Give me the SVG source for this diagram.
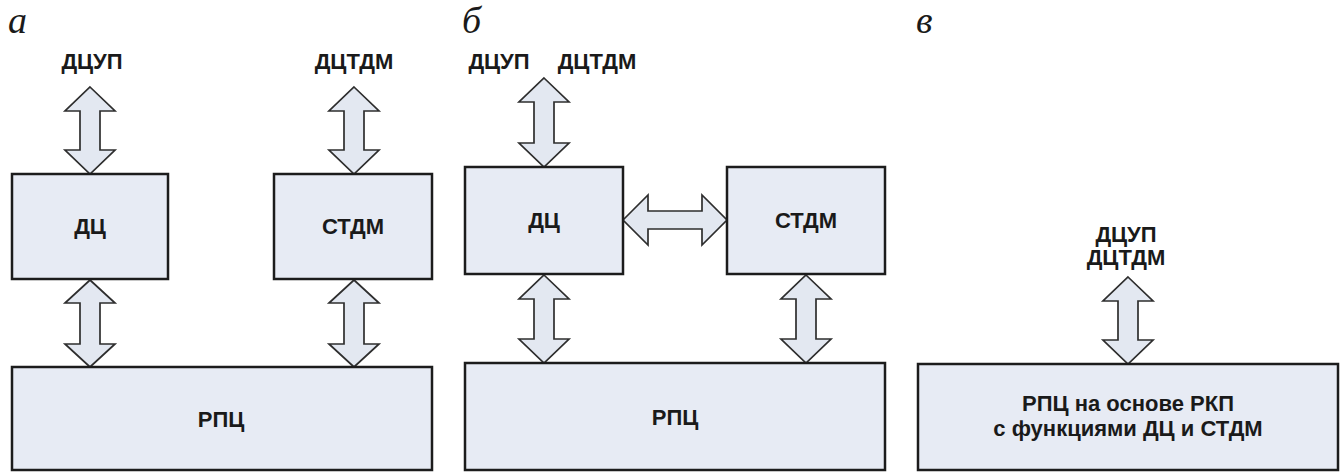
<svg xmlns="http://www.w3.org/2000/svg" width="1341" height="472" viewBox="0 0 1341 472">
<style>
.box{fill:#E7EBF4;stroke:#1c1c1c;stroke-width:2.5}
.arr{fill:#E3E8F1;stroke:#2e2e2e;stroke-width:1.7;stroke-linejoin:miter}
.t{font-family:"Liberation Sans",Arial,sans-serif;font-weight:bold;font-size:22px;fill:#1a1a1a;text-anchor:middle}
.lbl{font-family:"Liberation Serif","Times New Roman",serif;font-style:italic;font-size:38px;fill:#1a1a1a}
</style>
<rect width="1341" height="472" fill="#fff"/>
<text class="lbl" x="8" y="33">а</text>
<text class="lbl" x="462" y="33">б</text>
<text class="lbl" x="916" y="33">в</text>
<g id="labels">
<text class="t" x="92" y="69">ДЦУП</text>
<text class="t" x="354" y="69">ДЦТДМ</text>
<text class="t" x="499" y="69">ДЦУП</text>
<text class="t" x="597" y="69">ДЦТДМ</text>
<text class="t" x="1126" y="242">ДЦУП</text>
<text class="t" x="1126" y="265">ДЦТДМ</text>
</g>
<g id="connectors">
<path class="arr" d="M90,87 L115,111 L100,111 L100,150 L115,150 L90,174 L65,150 L80,150 L80,111 L65,111 Z"/>
<path class="arr" d="M354,87 L379,111 L364,111 L364,150 L379,150 L354,174 L329,150 L344,150 L344,111 L329,111 Z"/>
<path class="arr" d="M90,280 L115,303 L100,303 L100,344 L115,344 L90,367 L65,344 L80,344 L80,303 L65,303 Z"/>
<path class="arr" d="M354,280 L379,303 L364,303 L364,344 L379,344 L354,367 L329,344 L344,344 L344,303 L329,303 Z"/>
<path class="arr" d="M544,78 L569,102 L554,102 L554,143 L569,143 L544,167 L519,143 L534,143 L534,102 L519,102 Z"/>
<path class="arr" d="M544,275 L569,299 L554,299 L554,339 L569,339 L544,363 L519,339 L534,339 L534,299 L519,299 Z"/>
<path class="arr" d="M806,275 L831,299 L816,299 L816,339 L831,339 L806,363 L781,339 L796,339 L796,299 L781,299 Z"/>
<path class="arr" d="M623,220 L648,195 L648,211 L702,211 L702,195 L727,220 L702,245 L702,229 L648,229 L648,245 Z"/>
<path class="arr" d="M1128,277 L1153,301 L1138,301 L1138,340 L1153,340 L1128,364 L1103,340 L1118,340 L1118,301 L1103,301 Z"/>
</g>
<g id="a-dc"><rect class="box" x="12" y="174" width="156" height="105"/><text class="t" x="90" y="234">ДЦ</text></g>
<g id="a-stdm"><rect class="box" x="274" y="174" width="158" height="105"/><text class="t" x="353" y="234">СТДМ</text></g>
<g id="a-rpc"><rect class="box" x="12" y="367" width="420" height="103"/><text class="t" x="221" y="427">РПЦ</text></g>
<g id="b-dc"><rect class="box" x="465" y="167" width="158" height="107"/><text class="t" x="544" y="228">ДЦ</text></g>
<g id="b-stdm"><rect class="box" x="727" y="167" width="158" height="107"/><text class="t" x="806" y="228">СТДМ</text></g>
<g id="b-rpc"><rect class="box" x="465" y="363" width="420" height="107"/><text class="t" x="675" y="425">РПЦ</text></g>
<g id="c-rpc"><rect class="box" x="918" y="364" width="420" height="106"/><text class="t" x="1128" y="411">РПЦ на основе РКП</text><text class="t" x="1128" y="436">с функциями ДЦ и СТДМ</text></g>
</svg>
